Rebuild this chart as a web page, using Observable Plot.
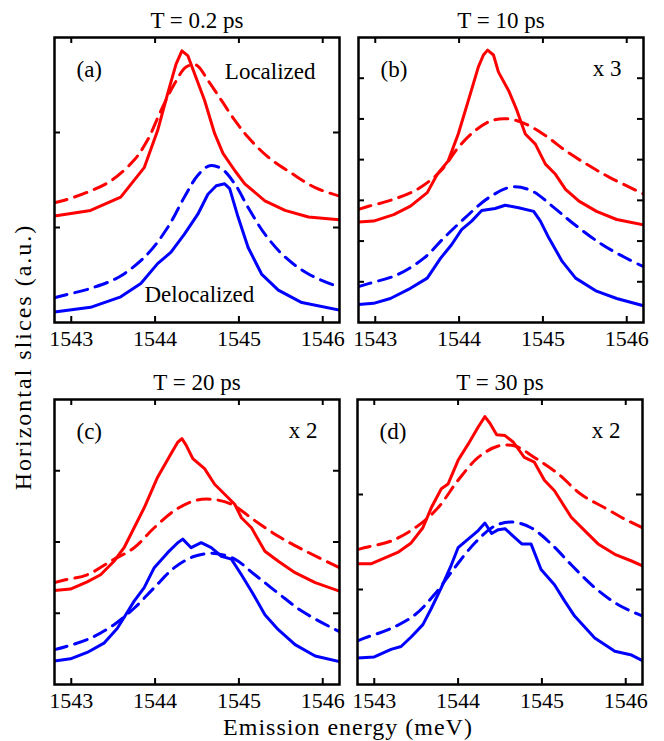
<!DOCTYPE html>
<html><head><meta charset="utf-8">
<script src="https://cdn.jsdelivr.net/npm/d3@7"></script>
<script src="https://cdn.jsdelivr.net/npm/@observablehq/plot@0.6"></script>
</head><body style="margin:0;font-size:24px;background:#fff">
<div id="fig" style="position:relative;width:664px;height:741px;overflow:hidden;background:#fff;font-family:'Liberation Serif',serif;color:#000">
<div style="position:absolute;left:48px;top:715px;width:600px;height:24px;line-height:24px;font-family:'Liberation Serif',serif;font-size:24px;text-align:center;letter-spacing:1px;white-space:nowrap">Emission energy (meV)</div>
<div style="position:absolute;left:-177px;top:345px;width:400px;height:24px;line-height:24px;font-family:'Liberation Serif',serif;font-size:24px;text-align:center;letter-spacing:2px;white-space:nowrap;transform:rotate(-90deg)">Horizontal slices (a.u.)</div>
</div>
<script>
// ---- data (energy in meV, intensity in a.u.) ----
const energyTicks = [1543, 1544, 1545, 1546];
const energyDomain = [1542.8, 1546.2];
const titles = ["T = 0.2 ps", "T = 10 ps", "T = 20 ps", "T = 30 ps"];
const tags = ["(a)", "(b)", "(c)", "(d)"];
const factors = ["", "x 3", "x 2", "x 2"];
const yMaxes = [3, 7, 4, 3];

// panel (a) T = 0.2 ps
const aLocExp = [[1542.80,1.12],[1543.23,1.18],[1543.59,1.32],[1543.87,1.63],[1544.03,2.02],[1544.15,2.41],[1544.25,2.72],[1544.32,2.86],[1544.39,2.81],[1544.47,2.62],[1544.59,2.34],[1544.71,1.99],[1544.81,1.78],[1544.95,1.60],[1545.07,1.46],[1545.31,1.28],[1545.55,1.18],[1545.83,1.11],[1546.20,1.08]];
const aLocSim = [[1542.80,1.26],[1542.93,1.29],[1543.19,1.37],[1543.47,1.49],[1543.75,1.71],[1543.91,1.92],[1544.07,2.23],[1544.23,2.51],[1544.37,2.69],[1544.49,2.71],[1544.63,2.55],[1544.79,2.34],[1544.95,2.13],[1545.11,1.95],[1545.35,1.74],[1545.63,1.57],[1545.91,1.42],[1546.20,1.33]];
const aDelExp = [[1542.80,0.11],[1543.23,0.16],[1543.59,0.27],[1543.83,0.41],[1544.03,0.62],[1544.19,0.74],[1544.35,0.93],[1544.51,1.14],[1544.63,1.35],[1544.73,1.44],[1544.83,1.46],[1544.89,1.41],[1544.99,1.11],[1545.11,0.79],[1545.27,0.51],[1545.47,0.34],[1545.75,0.21],[1546.20,0.13]];
const aDelSim = [[1542.80,0.26],[1542.93,0.29],[1543.27,0.37],[1543.59,0.49],[1543.91,0.72],[1544.15,1.00],[1544.35,1.32],[1544.51,1.55],[1544.65,1.65],[1544.79,1.62],[1544.95,1.46],[1545.11,1.21],[1545.31,0.93],[1545.55,0.69],[1545.83,0.51],[1546.20,0.37]];

// panel (b) T = 10 ps
const bLocExp = [[1542.80,2.47],[1542.98,2.49],[1543.22,2.65],[1543.42,2.86],[1543.62,3.19],[1543.74,3.64],[1543.87,3.97],[1543.99,4.63],[1544.11,5.45],[1544.23,6.28],[1544.29,6.57],[1544.34,6.69],[1544.41,6.57],[1544.47,6.15],[1544.59,5.70],[1544.69,5.21],[1544.79,4.63],[1544.91,4.38],[1545.03,3.89],[1545.15,3.64],[1545.27,3.27],[1545.43,2.98],[1545.64,2.73],[1545.88,2.53],[1546.20,2.40]];
const bLocSim = [[1542.80,2.78],[1542.93,2.86],[1543.18,3.00],[1543.50,3.27],[1543.78,3.72],[1543.99,4.30],[1544.19,4.71],[1544.39,4.96],[1544.59,5.00],[1544.79,4.88],[1545.03,4.59],[1545.27,4.22],[1545.52,3.89],[1545.80,3.56],[1546.20,3.16]];
const bDelExp = [[1542.80,0.44],[1542.98,0.47],[1543.18,0.59],[1543.42,0.84],[1543.62,1.09],[1543.78,1.58],[1543.91,1.91],[1544.03,2.28],[1544.15,2.49],[1544.27,2.75],[1544.43,2.80],[1544.55,2.88],[1544.71,2.82],[1544.89,2.73],[1544.97,2.49],[1545.07,2.08],[1545.23,1.50],[1545.39,1.09],[1545.64,0.77],[1545.88,0.59],[1546.20,0.41]];
const bDelSim = [[1542.80,0.88],[1542.93,0.96],[1543.26,1.17],[1543.58,1.58],[1543.82,2.08],[1544.07,2.57],[1544.35,3.06],[1544.63,3.33],[1544.87,3.23],[1545.11,2.86],[1545.35,2.45],[1545.68,1.95],[1545.92,1.66],[1546.20,1.37]];

// panel (c) T = 20 ps
const cLocExp = [[1542.80,1.32],[1542.99,1.34],[1543.19,1.44],[1543.35,1.54],[1543.51,1.73],[1543.63,1.92],[1543.75,2.20],[1543.87,2.48],[1544.03,2.91],[1544.19,3.24],[1544.27,3.40],[1544.32,3.45],[1544.37,3.36],[1544.45,3.17],[1544.59,3.03],[1544.71,2.81],[1544.83,2.67],[1544.95,2.53],[1545.03,2.34],[1545.15,2.20],[1545.31,1.87],[1545.47,1.73],[1545.67,1.57],[1545.91,1.43],[1546.20,1.31]];
const cLocSim = [[1542.80,1.43],[1542.93,1.47],[1543.19,1.54],[1543.47,1.73],[1543.75,1.92],[1543.99,2.20],[1544.23,2.44],[1544.47,2.58],[1544.67,2.60],[1544.91,2.53],[1545.19,2.30],[1545.47,2.08],[1545.75,1.90],[1546.20,1.64]];
const cDelExp = [[1542.80,0.33],[1542.99,0.36],[1543.19,0.45],[1543.39,0.58],[1543.55,0.79],[1543.65,0.98],[1543.75,1.17],[1543.87,1.36],[1543.99,1.64],[1544.15,1.85],[1544.27,1.99],[1544.33,2.04],[1544.43,1.92],[1544.55,1.99],[1544.67,1.92],[1544.79,1.80],[1544.91,1.76],[1545.03,1.54],[1545.15,1.31],[1545.31,0.98],[1545.47,0.77],[1545.67,0.56],[1545.91,0.40],[1546.20,0.32]];
const cDelSim = [[1542.80,0.49],[1542.93,0.53],[1543.23,0.65],[1543.51,0.84],[1543.75,1.07],[1543.99,1.36],[1544.23,1.64],[1544.47,1.80],[1544.71,1.84],[1544.95,1.76],[1545.19,1.54],[1545.47,1.28],[1545.75,1.03],[1546.20,0.74]];

// panel (d) T = 30 ps
const dLocExp = [[1542.80,1.27],[1542.96,1.27],[1543.12,1.33],[1543.28,1.39],[1543.44,1.49],[1543.58,1.65],[1543.68,1.86],[1543.80,2.06],[1543.88,2.11],[1544.00,2.36],[1544.12,2.53],[1544.24,2.71],[1544.32,2.82],[1544.38,2.75],[1544.46,2.63],[1544.56,2.62],[1544.66,2.55],[1544.79,2.39],[1544.91,2.34],[1545.03,2.15],[1545.15,2.04],[1545.35,1.76],[1545.51,1.62],[1545.67,1.48],[1545.87,1.37],[1546.07,1.30],[1546.20,1.25]];
const dLocSim = [[1542.80,1.42],[1542.88,1.44],[1543.20,1.51],[1543.52,1.67],[1543.76,1.86],[1544.00,2.15],[1544.24,2.39],[1544.48,2.51],[1544.68,2.51],[1544.91,2.39],[1545.19,2.22],[1545.47,2.00],[1545.75,1.86],[1545.99,1.74],[1546.20,1.65]];
const dDelExp = [[1542.80,0.28],[1543.00,0.29],[1543.20,0.37],[1543.32,0.40],[1543.44,0.50],[1543.58,0.63],[1543.68,0.80],[1543.80,1.02],[1543.92,1.26],[1544.00,1.44],[1544.12,1.53],[1544.24,1.62],[1544.32,1.70],[1544.40,1.59],[1544.48,1.63],[1544.56,1.64],[1544.66,1.56],[1544.76,1.48],[1544.87,1.48],[1544.99,1.21],[1545.15,1.05],[1545.27,0.88],[1545.39,0.72],[1545.63,0.49],[1545.87,0.35],[1546.07,0.31],[1546.20,0.25]];
const dDelSim = [[1542.80,0.46],[1542.92,0.50],[1543.20,0.59],[1543.48,0.73],[1543.72,0.95],[1543.96,1.23],[1544.20,1.49],[1544.44,1.67],[1544.64,1.71],[1544.87,1.65],[1545.11,1.48],[1545.35,1.26],[1545.63,1.02],[1545.91,0.84],[1546.20,0.72]];

const panelSeries = [
  [aLocExp, aLocSim, aDelExp, aDelSim],
  [bLocExp, bLocSim, bDelExp, bDelSim],
  [cLocExp, cLocSim, cDelExp, cDelSim],
  [dLocExp, dLocSim, dDelExp, dDelSim]
];

// ---- layout/style ----
const RED = "#ff0000", BLUE = "#0000ff";
const FONT = "'Liberation Serif', serif";
const W = 285, H = 285, ML = 14, MR = 14, MT = 37, MB = 32;
const positions = [[40, 0], [344, 0], [40, 362], [343, 362]];

function makePanel(i) {
  const [locExp, locSim, delExp, delSim] = panelSeries[i];
  const yTicks = d3.range(1, yMaxes[i]);
  const lineOpts = (stroke, dashed) => ({
    x: d => d[0], y: d => d[1], stroke, strokeWidth: 3,
    strokeDasharray: dashed ? "13,8" : null,
    curve: dashed ? "catmull-rom" : "linear", clip: true
  });
  const txt = {fontFamily: FONT, fontSize: 23, fill: "black", lineAnchor: "bottom"};
  const marks = [
    Plot.line(locSim, lineOpts(RED, true)),
    Plot.line(delSim, lineOpts(BLUE, true)),
    Plot.line(locExp, lineOpts(RED, false)),
    Plot.line(delExp, lineOpts(BLUE, false)),
    Plot.tickX(energyTicks, {x: d => d, insetTop: H - 6, stroke: "black", strokeWidth: 2}),
    Plot.tickX(energyTicks, {x: d => d, insetBottom: H - 6, stroke: "black", strokeWidth: 2}),
    Plot.tickY(yTicks, {y: d => d, insetRight: W - 6, stroke: "black", strokeWidth: 2}),
    Plot.tickY(yTicks, {y: d => d, insetLeft: W - 6, stroke: "black", strokeWidth: 2}),
    Plot.frame({stroke: "black", strokeWidth: 2.5}),
    Plot.axisX(energyTicks, {tickSize: 0, tickPadding: 8, tickFormat: "d", fontSize: 22, fontFamily: FONT, fill: "black"}),
    Plot.text([titles[i]], {...txt, text: d => d, frameAnchor: "top", dy: -10}),
    Plot.text([tags[i]], {...txt, text: d => d, frameAnchor: "top-left", textAnchor: "start", dx: 22, dy: 39}),
    Plot.text([factors[i]], {...txt, text: d => d, frameAnchor: "top-right", textAnchor: "end", dx: -22, dy: 38})
  ];
  if (i === 0) {
    marks.push(Plot.text(["Localized"], {...txt, text: d => d, frameAnchor: "top-right", textAnchor: "end", dx: -24, dy: 41}));
    marks.push(Plot.text(["Delocalized"], {...txt, text: d => d, frameAnchor: "bottom-left", textAnchor: "start", dx: 90, dy: -21}));
  }
  const svg = Plot.plot({
    width: W + ML + MR, height: H + MT + MB,
    marginLeft: ML, marginRight: MR, marginTop: MT, marginBottom: MB,
    x: {domain: energyDomain},
    y: {domain: [0, yMaxes[i]], axis: null},
    style: {fontFamily: FONT, fontSize: "22px", background: "transparent", color: "black", overflow: "visible"},
    marks
  });
  svg.style.position = "absolute";
  svg.style.left = positions[i][0] + "px";
  svg.style.top = positions[i][1] + "px";
  return svg;
}

const fig = document.getElementById("fig");
for (let i = 0; i < 4; i++) fig.appendChild(makePanel(i));
</script></body></html>
